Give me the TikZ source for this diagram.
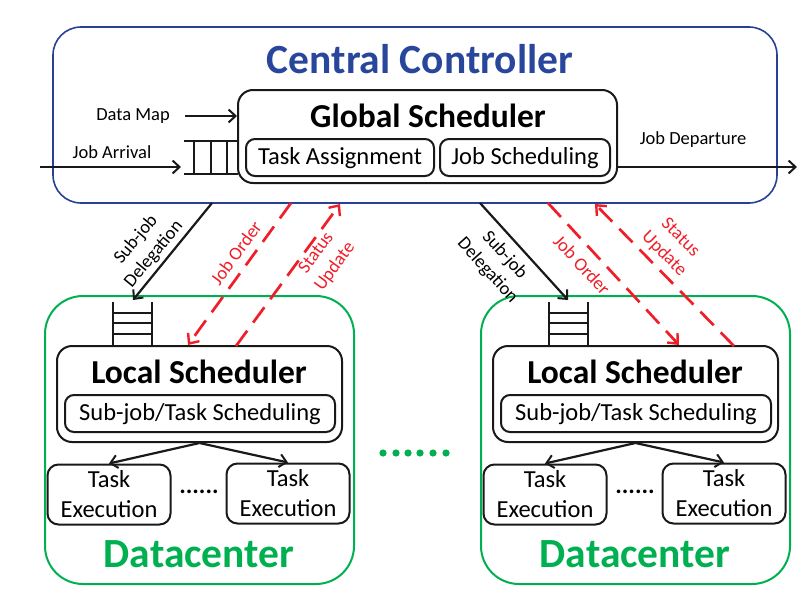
\documentclass[tikz,border=0pt]{standalone}
\usepackage{fontspec}
\setmainfont{Carlito}
\usetikzlibrary{arrows.meta}
\definecolor{ccblue}{RGB}{40,70,155}
\definecolor{ccborder}{RGB}{40,65,150}
\definecolor{dcgreen}{RGB}{0,176,80}
\definecolor{ordred}{RGB}{240,30,40}
\begin{document}
\begin{tikzpicture}[x=1pt,y=-1pt,
  box/.style={draw=black!90,line width=2pt,rounded corners=#1,inner sep=0pt},
  box/.default=9pt,
  small/.style={font=\fontsize{18.5}{23}\selectfont,inner sep=0pt},
  mid/.style={font=\fontsize{24.5}{30}\selectfont,inner sep=0pt},
  bigb/.style={font=\fontsize{33.5}{38}\selectfont\bfseries,inner sep=0pt},
  hugeb/.style={font=\fontsize{41.5}{46}\selectfont\bfseries,inner sep=0pt},
  arr/.style={line width=2.2pt,black!90,-{Straight Barb[length=7pt,width=13pt,line width=2pt]}},
  redarr/.style={line width=2.7pt,ordred,dash pattern=on 19pt off 10pt,-{Straight Barb[length=8pt,width=14pt,line width=2.4pt]}},
  redlab/.style={small,text=ordred,align=center},
  qline/.style={line width=2.4pt,black!90},
]
\useasboundingbox (0,0) rectangle (808,610);

% Central controller
\node[draw=ccborder,line width=1.6pt,rounded corners=28pt,minimum width=724pt,minimum height=176pt] (cc) at (415,115) {};
\node[hugeb,text=ccblue] (cctitle) at (420,59) {Central Controller};

\node[box=15pt,minimum width=379pt,minimum height=93pt] (gs) at (427.5,136.5) {};
\node[bigb] (gstitle) at (428,116) {Global Scheduler};
\node[box,minimum width=188pt,minimum height=37pt] (ta) at (340,157.5) {};
\node[mid] (tatext) at (340,158) {Task Assignment};
\node[box,minimum width=170pt,minimum height=37pt] (js) at (525,157.5) {};
\node[mid] (jstext) at (525,158) {Job Scheduling};

% inputs
\node[small] (dm) at (133,116) {Data Map};
\coordinate (dms) at (185,116);
\coordinate (dme) at (237,116);
\draw[arr] (dms) -- (dme);
\node[small] (ja) at (112,152) {Job Arrival};
\coordinate (jas) at (40,167);
\coordinate (jae) at (181,167);
\draw[arr] (jas) -- (jae);
% queue of global scheduler
\coordinate (q0a) at (184,141); \coordinate (q0b) at (238,141);
\coordinate (q0c) at (184,174); \coordinate (q0d) at (238,174);
\draw[qline] (q0a) -- (q0b) (q0c) -- (q0d);
\foreach \xx in {194,211,227} \draw[qline] (\xx,141) -- (\xx,174);

% departure
\node[small] (jd) at (693,140) {Job Departure};
\coordinate (jds) at (618,167);
\coordinate (jde) at (797,167);
\draw[arr] (jds) -- (jde);

% Datacenters
\foreach \n/\dx in {1/0,2/436} {
  \begin{scope}[xshift=\dx pt]
  \node[draw=dcgreen,line width=2pt,rounded corners=38pt,minimum width=309pt,minimum height=288pt] (dc\n) at (199.5,440) {};
  \node[box=15pt,minimum width=285pt,minimum height=96pt] (ls\n) at (199.5,394) {};
  \node[bigb] (lstitle\n) at (199,372) {Local Scheduler};
  \node[box,minimum width=270pt,minimum height=37pt] (sub\n) at (200,413.5) {};
  \node[mid] (subtext\n) at (200,414) {Sub-job/Task Scheduling};
  \foreach \xx in {113,152} \draw[qline] (\xx,302) -- (\xx,346);
  \foreach \yy in {313,323,334} \draw[qline] (113,\yy) -- (152,\yy);
  \node[box=11pt,minimum width=123pt,minimum height=60pt,mid,align=center] (tea\n) at (109,494.5) {Task\\Execution};
  \node[box=11pt,minimum width=123pt,minimum height=60pt,mid,align=center] (teb\n) at (288,493.5) {Task\\Execution};
  \node[mid,font=\fontsize{24.5}{30}\selectfont\bfseries] (dots\n) at (199,492) {......};
  \node[hugeb,text=dcgreen] (dctitle\n) at (199,554) {Datacenter};
  \end{scope}
}
\draw[arr] (ls1.south) -- (tea1.north);
\draw[arr] (ls1.south) -- (teb1.north);
\draw[arr] (ls2.south) -- (tea2.north);
\draw[arr] (ls2.south) -- (teb2.north);

% middle dots
\foreach \xx in {383,396,408,420,433,446} \fill[dcgreen] (\xx,453) circle (3.6pt);

% connectors left
\coordinate (sd1s) at (212,203); \coordinate (sd1e) at (133,300);
\draw[arr] (sd1s) -- (sd1e);
\coordinate (jo1s) at (291,203); \coordinate (jo1e) at (188,345);
\draw[redarr] (jo1s) -- (jo1e);
\coordinate (su1s) at (236,346); \coordinate (su1e) at (340,204);
\draw[redarr] (su1s) -- (su1e);
\node[small,align=center,rotate=50.5] (lsd1) at (145,247) {Sub-job\\Delegation};
\node[redlab,rotate=54] (ljo1) at (236,253) {Job Order};
\node[redlab,rotate=54] (lsu1) at (326,260) {Status\\Update};

% connectors right
\coordinate (sd2s) at (480,203); \coordinate (sd2e) at (568,300);
\draw[arr] (sd2s) -- (sd2e);
\coordinate (jo2s) at (548,203); \coordinate (jo2e) at (679,345);
\draw[redarr] (jo2s) -- (jo2e);
\coordinate (su2s) at (734,346); \coordinate (su2e) at (595,204);
\draw[redarr] (su2s) -- (su2e);
\node[small,align=center,rotate=-48] (lsd2) at (496,263) {Sub-job\\Delegation};
\node[redlab,rotate=-47] (ljo2) at (582,265) {Job Order};
\node[redlab,rotate=-45] (lsu2) at (672,246) {Status\\Update};
\end{tikzpicture}
\end{document}
